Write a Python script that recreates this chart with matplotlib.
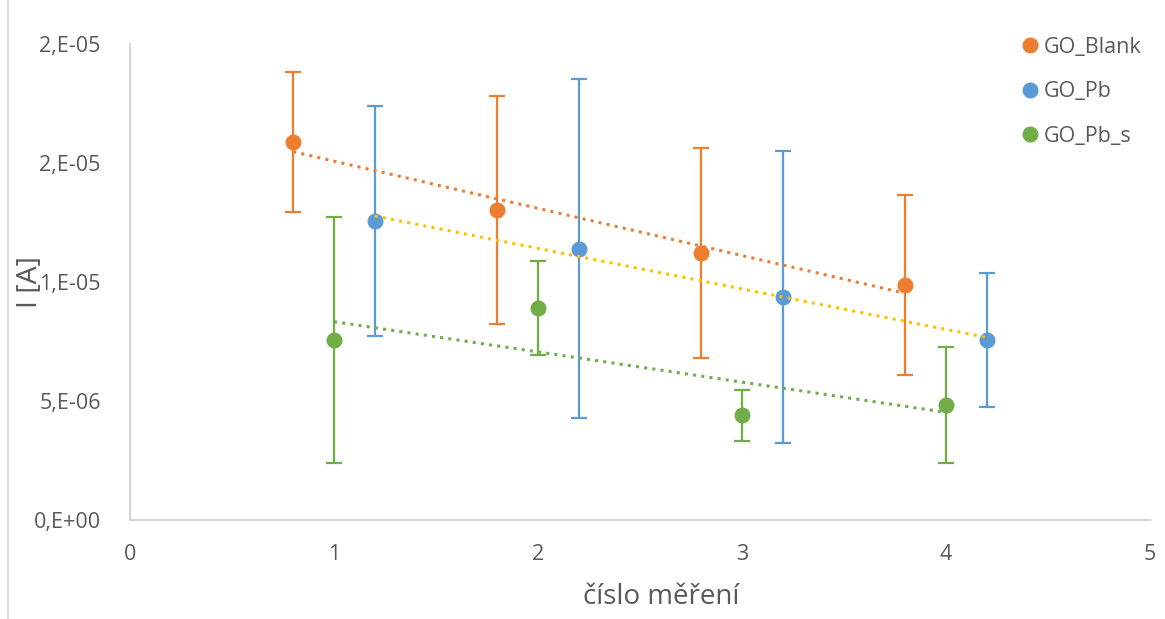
import numpy as np
import matplotlib.pyplot as plt
from matplotlib.ticker import FuncFormatter, MultipleLocator
from matplotlib.lines import Line2D

plt.rcParams['font.family'] = ['Open Sans', 'DejaVu Sans']

# namerene proudy a smerodatne odchylky
x_blank = [0.8, 1.8, 2.8, 3.8]
I_blank = [15.88e-6, 13.03e-6, 11.22e-6, 9.87e-6]
err_blank = [2.94e-6, 4.79e-6, 4.41e-6, 3.77e-6]

x_pb = [1.2, 2.2, 3.2, 4.2]
I_pb = [12.56e-6, 11.39e-6, 9.37e-6, 7.56e-6]
err_pb = [4.83e-6, 7.12e-6, 6.13e-6, 2.80e-6]

x_pbs = [1, 2, 3, 4]
I_pbs = [7.56e-6, 8.91e-6, 4.41e-6, 4.83e-6]
err_pbs = [5.17e-6, 1.98e-6, 1.07e-6, 2.42e-6]

labels = ['GO_Blank', 'GO_Pb', 'GO_Pb_s']
colors = ['#ED7D31', '#5B9BD5', '#70AD47']
trend_colors = ['#ED7D31', '#FFC000', '#70AD47']

series = [(x_blank, I_blank, err_blank),
          (x_pb, I_pb, err_pb),
          (x_pbs, I_pbs, err_pbs)]


def excel_sci(v, pos):
    # format "0,E+00" s desetinnou carkou
    if v == 0:
        return '0,E+00'
    e = int(np.floor(np.log10(abs(v))))
    m = round(v / 10**e, 6)
    m = int(np.floor(m + 0.5))
    if m == 10:
        m = 1
        e += 1
    return f'{m},E{e:+03d}'


fig = plt.figure(figsize=(11.65, 6.19), dpi=100)
ax = fig.add_axes([130/1165, 1-520/619, 1020/1165, 476/619])

for (x, y, err), c, tc in zip(series, colors, trend_colors):
    ax.errorbar(x, y, yerr=err, fmt='none', ecolor=c, elinewidth=1.6,
                capsize=6, capthick=1.6, zorder=2)
    ax.plot(x, y, 'o', color=c, markersize=10.5, zorder=3)
    # linearni spojnice trendu
    k, q = np.polyfit(x, y, 1)
    xx = np.array([x[0], x[-1]])
    ax.plot(xx, k*xx + q, color=tc, linewidth=2.2, dashes=(1, 1.7),
            dash_capstyle='butt', zorder=4)

ax.set_xlim(0, 5)
ax.set_ylim(0, 2e-5)
ax.xaxis.set_major_locator(MultipleLocator(1))
ax.yaxis.set_major_locator(MultipleLocator(5e-6))
ax.yaxis.set_major_formatter(FuncFormatter(excel_sci))

for s in ['top', 'right']:
    ax.spines[s].set_visible(False)
for s in ['left', 'bottom']:
    ax.spines[s].set_color('#D0D0D0')
    ax.spines[s].set_linewidth(1.3)
ax.tick_params(length=0, labelsize=15.5, labelcolor='#595959')
ax.tick_params(axis='x', pad=17)
ax.tick_params(axis='y', pad=21)

fig.text(661/1165, 1-597/619, 'číslo měření', ha='center', va='center',
         fontsize=20, color='#595959')
fig.text(30/1165, 1-282/619, 'I [A]', ha='center', va='center',
         rotation=90, fontsize=20.5, color='#595959')

handles = [Line2D([], [], linestyle='none', marker='o', color=c, markersize=10.5)
           for c in colors]
ax.legend(handles, labels, loc='upper left', bbox_to_anchor=(1011/1165, 1-28/619),
          bbox_transform=fig.transFigure, frameon=False, fontsize=15.5,
          labelcolor='#595959', handletextpad=0.1, handlelength=1.0,
          labelspacing=1.1, borderaxespad=0)

# okraj oblasti grafu
fig.add_artist(Line2D([8/1165, 8/1165], [0, 1], transform=fig.transFigure,
                      color='#D9D9D9', linewidth=1.3))

fig.savefig('out.png', dpi=100)
